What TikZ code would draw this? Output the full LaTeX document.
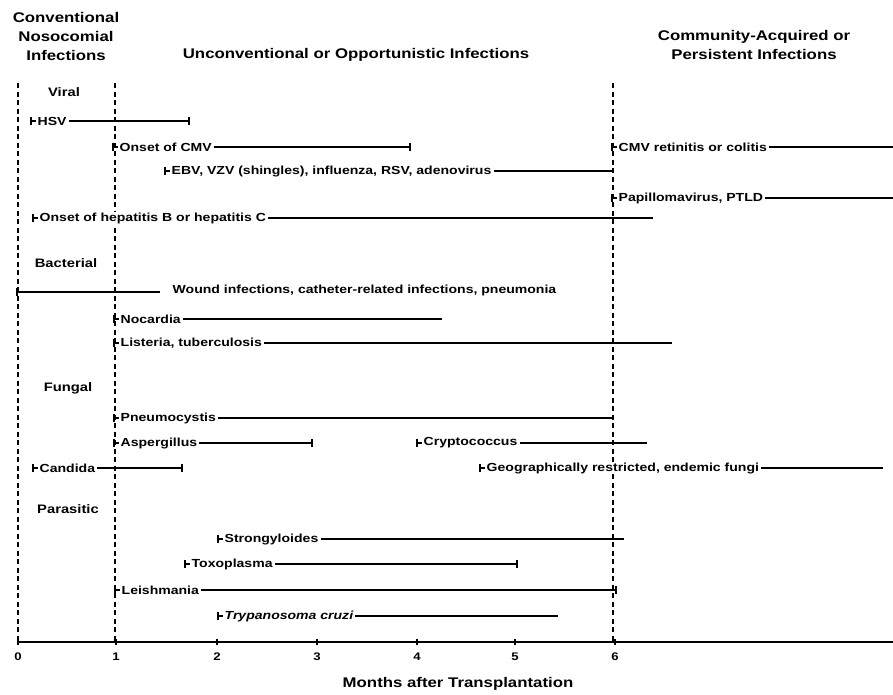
\documentclass[tikz,border=0pt]{standalone}
\usepackage{fontspec}
\newfontfamily\lblfont{Liberation Sans}[FakeStretch=1.2]
\tikzset{
  ttl/.style={font=\lblfont\bfseries\fontsize{14}{19}\selectfont, align=center, inner sep=0pt},
  sec/.style={font=\lblfont\bfseries\fontsize{12.3}{14}\selectfont, inner sep=0pt},
  lbl/.style={font=\lblfont\bfseries\fontsize{11.7}{13}\selectfont, anchor=west, fill=white, inner xsep=2pt, inner ysep=0.5pt, xshift=4.5pt},
  num/.style={font=\lblfont\bfseries\fontsize{11}{13}\selectfont, inner sep=0pt},
  bar/.style={line width=1.8pt},
  tk/.style={line width=2pt},
  vdash/.style={line width=1.5pt, dash pattern=on 5pt off 3.5pt},
  axis/.style={line width=1.4pt}
}
\newcommand\stk[1]{\draw[tk] ([yshift=-4pt]#1) -- ([yshift=4pt]#1);}
\begin{document}
\begin{tikzpicture}[x=1pt,y=-1pt]
\useasboundingbox (0,0) rectangle (893,694);

% titles
\node[ttl] (t1) at (66,36) {Conventional\\Nosocomial\\Infections};
\node[ttl] (t2) at (356,55) {Unconventional or Opportunistic Infections};
\node[ttl] (t3) at (754,45) {Community-Acquired or\\Persistent Infections};

% dashed period lines
\coordinate (d0t) at (18,83);  \coordinate (d0b) at (18,642);
\coordinate (d1t) at (115,83); \coordinate (d1b) at (115,642);
\coordinate (d6t) at (613,83); \coordinate (d6b) at (613,642);
\draw[vdash] (d0t) -- (d0b);
\draw[vdash] (d1t) -- (d1b);
\draw[vdash] (d6t) -- (d6b);

% axis
\coordinate (ax0) at (18,642); \coordinate (ax1) at (893,642);
\draw[axis] (ax0) -- (ax1);
\foreach \m/\xx in {0/18,1/116,2/217,3/317,4/417,5/515,6/615}{
  \draw[axis] (\xx,639) -- (\xx,645);
  \node[num] (n\m) at (\xx,657) {\m};
}
\node[ttl] (xl) at (458,684) {Months after Transplantation};

% section labels
\node[sec] (viral) at (64,92) {Viral};
\node[sec] (bact) at (66,263) {Bacterial};
\node[sec] (fung) at (68,388) {Fungal};
\node[sec] (para) at (68,509) {Parasitic};

% Viral
\coordinate (hsvA) at (31,121); \coordinate (hsvB) at (189,121);
\node[lbl] (hsv) at (hsvA) {HSV};
\draw[bar] (hsvA) -- (hsv.west); \draw[bar] (hsv.east) -- (hsvB);
\stk{hsvA} \stk{hsvB}

\coordinate (cmvA) at (113,147); \coordinate (cmvB) at (410,147);
\node[lbl] (cmv) at (cmvA) {Onset of CMV};
\draw[bar] (cmvA) -- (cmv.west); \draw[bar] (cmv.east) -- (cmvB);
\stk{cmvA} \stk{cmvB}

\coordinate (ebvA) at (165,171); \coordinate (ebvB) at (612,171);
\node[lbl] (ebv) at (ebvA) {EBV, VZV (shingles), influenza, RSV, adenovirus};
\draw[bar] (ebvA) -- (ebv.west); \draw[bar] (ebv.east) -- (ebvB);
\stk{ebvA}

\coordinate (retA) at (612,147); \coordinate (retB) at (893,147);
\node[lbl] (ret) at (retA) {CMV retinitis or colitis};
\draw[bar] (retA) -- (ret.west); \draw[bar] (ret.east) -- (retB);
\stk{retA}

\coordinate (papA) at (612,198); \coordinate (papB) at (893,198);
\node[lbl] (pap) at (papA) {Papillomavirus, PTLD};
\draw[bar] (papA) -- (pap.west); \draw[bar] (pap.east) -- (papB);
\stk{papA}

\coordinate (hepA) at (33,218); \coordinate (hepB) at (653,218);
\node[lbl] (hep) at (hepA) {Onset of hepatitis B or hepatitis C};
\draw[bar] (hepA) -- (hep.west); \draw[bar] (hep.east) -- (hepB);
\stk{hepA}

% Bacterial
\coordinate (wndA) at (17,292); \coordinate (wndB) at (160,292);
\node[lbl, xshift=3pt] (wnd) at (163,290) {Wound infections, catheter-related infections, pneumonia};
\draw[bar] (wndA) -- (wndB);
\stk{wndA}

\coordinate (nocA) at (114,319); \coordinate (nocB) at (442,319);
\node[lbl] (noc) at (nocA) {Nocardia};
\draw[bar] (nocA) -- (noc.west); \draw[bar] (noc.east) -- (nocB);
\stk{nocA}

\coordinate (lisA) at (114,343); \coordinate (lisB) at (672,343);
\node[lbl] (lis) at (lisA) {Listeria, tuberculosis};
\draw[bar] (lisA) -- (lis.west); \draw[bar] (lis.east) -- (lisB);
\stk{lisA}

% Fungal
\coordinate (pneA) at (114,418); \coordinate (pneB) at (613,418);
\node[lbl] (pne) at (pneA) {Pneumocystis};
\draw[bar] (pneA) -- (pne.west); \draw[bar] (pne.east) -- (pneB);
\stk{pneA}

\coordinate (aspA) at (114,443); \coordinate (aspB) at (312,443);
\node[lbl] (asp) at (aspA) {Aspergillus};
\draw[bar] (aspA) -- (asp.west); \draw[bar] (asp.east) -- (aspB);
\stk{aspA} \stk{aspB}

\coordinate (cryA) at (417,443); \coordinate (cryB) at (647,443);
\node[lbl] (cry) at (cryA) {Cryptococcus};
\draw[bar] (cryA) -- (cry.west); \draw[bar] (cry.east) -- (cryB);
\stk{cryA}

\coordinate (canA) at (33,468); \coordinate (canB) at (182,468);
\node[lbl] (can) at (canA) {Candida};
\draw[bar] (canA) -- (can.west); \draw[bar] (can.east) -- (canB);
\stk{canA} \stk{canB}

\coordinate (geoA) at (480,468); \coordinate (geoB) at (883,468);
\node[lbl] (geo) at (geoA) {Geographically restricted, endemic fungi};
\draw[bar] (geoA) -- (geo.west); \draw[bar] (geo.east) -- (geoB);
\stk{geoA}

% Parasitic
\coordinate (strA) at (218,539); \coordinate (strB) at (624,539);
\node[lbl] (str) at (strA) {Strongyloides};
\draw[bar] (strA) -- (str.west); \draw[bar] (str.east) -- (strB);
\stk{strA}

\coordinate (toxA) at (185,564); \coordinate (toxB) at (517,564);
\node[lbl] (tox) at (toxA) {Toxoplasma};
\draw[bar] (toxA) -- (tox.west); \draw[bar] (tox.east) -- (toxB);
\stk{toxA} \stk{toxB}

\coordinate (leiA) at (115,590); \coordinate (leiB) at (616,590);
\node[lbl] (lei) at (leiA) {Leishmania};
\draw[bar] (leiA) -- (lei.west); \draw[bar] (lei.east) -- (leiB);
\stk{leiA} \stk{leiB}

\coordinate (tryA) at (218,616); \coordinate (tryB) at (558,616);
\node[lbl] (try) at (tryA) {\itshape Trypanosoma cruzi};
\draw[bar] (tryA) -- (try.west); \draw[bar] (try.east) -- (tryB);
\stk{tryA}
\end{tikzpicture}
\end{document}
